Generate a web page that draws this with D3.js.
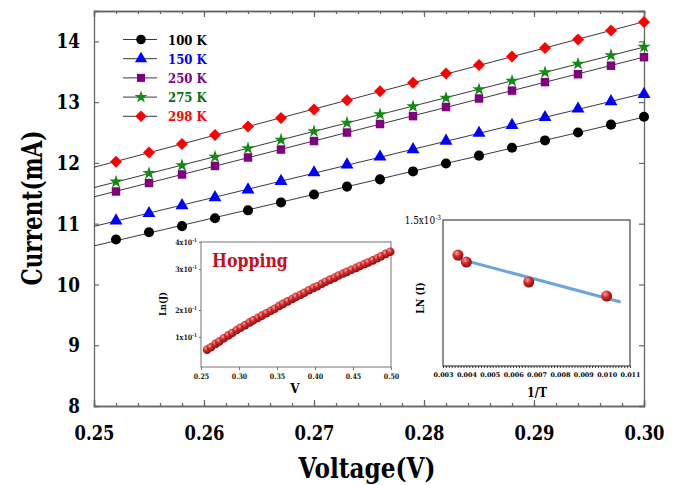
<!DOCTYPE html>
<html>
<head>
<meta charset="utf-8">
<script src="https://cdn.jsdelivr.net/npm/d3@7"></script>
<style>
  body { margin: 0; background: #fff; }
</style>
</head>
<body>
<div id="chart"></div>
<script>
// ---- main chart data ----
var voltage = [0.252, 0.255, 0.258, 0.261, 0.264, 0.267, 0.270, 0.273, 0.276, 0.279, 0.282, 0.285, 0.288, 0.291, 0.294, 0.297, 0.300];
var cur100 = [10.74, 10.86, 10.96, 11.09, 11.22, 11.35, 11.48, 11.61, 11.73, 11.86, 11.99, 12.12, 12.25, 12.37, 12.50, 12.63, 12.76];
var cur150 = [11.05, 11.17, 11.30, 11.43, 11.56, 11.70, 11.84, 11.97, 12.10, 12.22, 12.36, 12.49, 12.62, 12.75, 12.89, 13.01, 13.13];
var cur250 = [11.53, 11.67, 11.81, 11.95, 12.09, 12.22, 12.36, 12.50, 12.64, 12.77, 12.92, 13.06, 13.19, 13.33, 13.46, 13.60, 13.74];
var cur275 = [11.69, 11.83, 11.96, 12.10, 12.24, 12.38, 12.52, 12.66, 12.80, 12.93, 13.07, 13.21, 13.35, 13.49, 13.63, 13.77, 13.91];
var cur298 = [12.02, 12.17, 12.31, 12.46, 12.60, 12.74, 12.88, 13.03, 13.18, 13.32, 13.47, 13.61, 13.75, 13.89, 14.03, 14.18, 14.32];
var seriesNames = ["100 K", "150 K", "250 K", "275 K", "298 K"];
var xTicks = [0.25, 0.26, 0.27, 0.28, 0.29, 0.30];
var yTicks = [8, 9, 10, 11, 12, 13, 14];

// ---- inset 1 (Hopping) data ----
var hopV = [0.258, 0.263, 0.269, 0.274, 0.280, 0.286, 0.291, 0.297, 0.302, 0.308, 0.314, 0.319, 0.325, 0.330, 0.336,
            0.342, 0.347, 0.353, 0.358, 0.364, 0.370, 0.375, 0.381, 0.386, 0.392, 0.398, 0.403, 0.409, 0.414, 0.420,
            0.426, 0.431, 0.437, 0.442, 0.448, 0.454, 0.459, 0.465, 0.470, 0.476, 0.482, 0.487, 0.493, 0.499];
var hopLnJ = [0.058, 0.066, 0.077, 0.085, 0.096, 0.106, 0.115, 0.126, 0.134, 0.144, 0.154, 0.162, 0.171, 0.179, 0.188,
              0.197, 0.203, 0.210, 0.215, 0.221, 0.227, 0.232, 0.237, 0.242, 0.248, 0.254, 0.258, 0.264, 0.269, 0.274,
              0.279, 0.284, 0.289, 0.293, 0.298, 0.304, 0.311, 0.318, 0.324, 0.332, 0.340, 0.347, 0.356, 0.364];
var hopXTicks = [0.25, 0.30, 0.35, 0.40, 0.45, 0.50];
var hopYTicks = [0.1, 0.2, 0.3, 0.4];
var hopYLabels = ["1x10", "2x10", "3x10", "4x10"];

// ---- inset 2 (LN(I) vs 1/T) data ----
var invT = [0.00364, 0.00400, 0.00667, 0.01000];
var lnI = [0.001140, 0.001068, 0.000863, 0.000719];
var arrXTicks = [0.003, 0.004, 0.005, 0.006, 0.007, 0.008, 0.009, 0.010, 0.011];

var W = 681, H = 485;
var serif = "DejaVu Serif";
var svg = d3.select("#chart").append("svg")
    .attr("width", W).attr("height", H)
    .style("font-family", serif);
svg.append("rect").attr("width", W).attr("height", H).attr("fill", "#fff");

var defs = svg.append("defs");
var grad = defs.append("radialGradient").attr("id", "ball")
    .attr("cx", "38%").attr("cy", "32%").attr("r", "70%");
grad.append("stop").attr("offset", "0%").attr("stop-color", "#f6a0a0");
grad.append("stop").attr("offset", "45%").attr("stop-color", "#d42a2a");
grad.append("stop").attr("offset", "100%").attr("stop-color", "#8a0a0a");

// ---------------- main chart ----------------
var x = d3.scaleLinear().domain([0.25, 0.30]).range([94, 644]);
var y = d3.scaleLinear().domain([8, 14.5]).range([406, 11]);
var axisCol = "#666";

function styleAxis(g) {
    g.attr("font-family", null);
    g.select(".domain").attr("stroke", axisCol).attr("stroke-width", 1.3);
    g.selectAll(".tick line").attr("stroke", axisCol).attr("stroke-width", 1.2);
}

var minorX = d3.range(0, 26).map(function(i) { return 0.25 + i * 0.002; });

// bottom
svg.append("g").attr("transform", "translate(0,406)")
    .call(d3.axisBottom(x).tickValues(minorX).tickSize(-3).tickFormat(""))
    .call(styleAxis);
svg.append("g").attr("transform", "translate(0,406)")
    .call(d3.axisBottom(x).tickValues(xTicks).tickSize(-6).tickPadding(20).tickFormat(d3.format(".2f")))
    .call(styleAxis)
    .selectAll("text")
    .attr("fill", "#000").style("font-size", "20px").style("font-weight", "bold")
    .attr("transform", "scale(0.82,1)");
// top
svg.append("g").attr("transform", "translate(0,11)")
    .call(d3.axisTop(x).tickValues(minorX).tickSize(-3).tickFormat(""))
    .call(styleAxis);
svg.append("g").attr("transform", "translate(0,11)")
    .call(d3.axisTop(x).tickValues(xTicks).tickSize(-6).tickFormat(""))
    .call(styleAxis);
// left
svg.append("g").attr("transform", "translate(94,0)")
    .call(d3.axisLeft(y).tickValues(yTicks).tickSize(-5).tickPadding(13).tickFormat(d3.format("d")))
    .call(styleAxis)
    .selectAll("text")
    .attr("fill", "#000").style("font-size", "20.5px").style("font-weight", "bold")
    .attr("x", -14 / 0.82)
    .attr("transform", "scale(0.82,1)");
// right
svg.append("g").attr("transform", "translate(644,0)")
    .call(d3.axisRight(y).tickValues(yTicks).tickSize(-5).tickFormat(""))
    .call(styleAxis);

// axis titles
svg.append("text")
    .attr("transform", "translate(42,208) rotate(-90) scale(0.8,1)")
    .attr("text-anchor", "middle")
    .style("font-size", "27px").style("font-weight", "bold")
    .text("Current(mA)");
svg.append("text")
    .attr("transform", "translate(367,478) scale(0.86,1)")
    .attr("text-anchor", "middle")
    .style("font-size", "27px").style("font-weight", "bold")
    .text("Voltage(V)");

var seriesList = [
    { name: seriesNames[0], values: cur100, color: "#000000", text: "#000000", sym: d3.symbolCircle, size: 80, rot: 0 },
    { name: seriesNames[1], values: cur150, color: "#0000ff", text: "#0000ff", sym: d3.symbolTriangle, size: 72, rot: 0 },
    { name: seriesNames[2], values: cur250, color: "#800080", text: "#800080", sym: d3.symbolSquare, size: 72, rot: 0 },
    { name: seriesNames[3], values: cur275, color: "#138a13", text: "#0e6e0e", sym: d3.symbolStar, size: 55, rot: 0 },
    { name: seriesNames[4], values: cur298, color: "#ff0000", text: "#ff0000", sym: d3.symbolSquare, size: 72, rot: 45 }
];

// linear fit helper
function fit(xs, ys) {
    var mx = d3.mean(xs), my = d3.mean(ys);
    var sxy = 0, sxx = 0;
    xs.forEach(function(v, i) { sxy += (v - mx) * (ys[i] - my); sxx += (v - mx) * (v - mx); });
    var b = sxy / sxx;
    return function(v) { return my + b * (v - mx); };
}

var plot = svg.append("g");
seriesList.forEach(function(s) {
    var f = fit(voltage, s.values);
    plot.append("line")
        .attr("x1", x(0.25)).attr("y1", y(f(0.25)))
        .attr("x2", x(0.30)).attr("y2", y(f(0.30)))
        .attr("stroke", "#3a3a3a").attr("stroke-width", 1);
    plot.selectAll(null)
        .data(voltage)
        .enter()
        .append("path")
        .attr("d", d3.symbol().type(s.sym).size(s.size))
        .attr("transform", function(d, i) {
            return "translate(" + x(d) + "," + y(s.values[i]) + ") rotate(" + s.rot + ")";
        })
        .attr("fill", s.color);
});

// legend
var legend = svg.append("g");
seriesList.forEach(function(s, i) {
    var ly = 39.5 + i * 19.2;
    legend.append("line").attr("x1", 123).attr("x2", 157).attr("y1", ly).attr("y2", ly)
        .attr("stroke", "#3a3a3a").attr("stroke-width", 1);
    legend.append("path")
        .attr("d", d3.symbol().type(s.sym).size(s.size * 0.9))
        .attr("transform", "translate(141," + ly + ") rotate(" + s.rot + ")")
        .attr("fill", s.color);
    legend.append("text")
        .attr("transform", "translate(168," + (ly + 5) + ") scale(0.9,1)")
        .attr("fill", s.text)
        .style("font-size", "13px").style("font-weight", "bold")
        .text(s.name);
});

// ---------------- inset 1 : Hopping ----------------
var hx = d3.scaleLinear().domain([0.25, 0.50]).range([201, 391]);
var hy = d3.scaleLinear().domain([0, 0.1, 0.2, 0.3, 0.4]).range([367, 337, 310, 269, 242]);
var in1 = svg.append("g");
in1.append("rect").attr("x", 201).attr("y", 242).attr("width", 190).attr("height", 125)
    .attr("fill", "#fff").attr("stroke", "#8a8a8a").attr("stroke-width", 1.2);
in1.append("g").attr("transform", "translate(0,367)")
    .call(d3.axisBottom(hx).tickValues(hopXTicks).tickSize(3).tickPadding(4).tickFormat(d3.format(".2f")))
    .call(function(g) {
        g.attr("font-family", null);
        g.select(".domain").remove();
        g.selectAll(".tick line").attr("stroke", "#777");
        g.selectAll("text").attr("fill", "#222").style("font-size", "7.5px").style("font-weight", "bold")
            .attr("transform", "scale(0.85,1)");
    });
in1.append("g").attr("transform", "translate(201,0)")
    .call(d3.axisLeft(hy).tickValues(hopYTicks).tickSize(2).tickFormat(""))
    .call(function(g) {
        g.select(".domain").remove();
        g.selectAll(".tick line").attr("stroke", "#777");
    });
hopYTicks.forEach(function(t, i) {
    var tx = in1.append("text")
        .attr("transform", "translate(197," + (hy(t) + 3) + ") scale(0.85,1)")
        .attr("text-anchor", "end").attr("fill", "#222")
        .style("font-size", "7.5px").style("font-weight", "bold");
    tx.append("tspan").text(hopYLabels[i]);
    tx.append("tspan").attr("dy", -3).style("font-size", "5px").text("-1");
});
in1.append("text")
    .attr("transform", "translate(166,304) rotate(-90) scale(0.85,1)")
    .attr("text-anchor", "middle")
    .style("font-size", "10px").style("font-weight", "bold")
    .text("Ln(J)");
in1.append("text").attr("x", 295).attr("y", 393)
    .attr("text-anchor", "middle")
    .style("font-size", "12px").style("font-weight", "bold")
    .text("V");
in1.append("text")
    .attr("transform", "translate(212,267) scale(0.83,1)")
    .attr("fill", "#c3121c")
    .style("font-size", "19px").style("font-weight", "bold")
    .text("Hopping");
in1.selectAll(".ball")
    .data(hopV)
    .enter()
    .append("circle")
    .attr("class", "ball")
    .attr("cx", function(d) { return hx(d); })
    .attr("cy", function(d, i) { return hy(hopLnJ[i]); })
    .attr("r", 4.3)
    .attr("fill", "url(#ball)");

// ---------------- inset 2 : LN(I) vs 1/T ----------------
var ax = d3.scaleLinear().domain([0.003, 0.011]).range([443, 630]);
var ay = d3.scaleLinear().domain([0, 0.0015]).range([366, 220]);
var in2 = svg.append("g");
in2.append("rect").attr("x", 443).attr("y", 220).attr("width", 187).attr("height", 146)
    .attr("fill", "#fff").attr("stroke", "#444").attr("stroke-width", 1.2);
var minorT = d3.range(0, 65).map(function(i) { return 0.003 + i * 0.000125; });
in2.append("g").attr("transform", "translate(0,366)")
    .call(d3.axisBottom(ax).tickValues(minorT).tickSize(2).tickFormat(""))
    .call(function(g) {
        g.select(".domain").remove();
        g.selectAll(".tick line").attr("stroke", "#333");
    });
in2.append("g").attr("transform", "translate(0,366)")
    .call(d3.axisBottom(ax).tickValues(arrXTicks).tickSize(0).tickPadding(6).tickFormat(d3.format(".3f")))
    .call(function(g) {
        g.attr("font-family", null);
        g.select(".domain").remove();
        g.selectAll("text").attr("fill", "#000").style("font-size", "6.4px").style("font-weight", "bold");
    });
var topLab = in2.append("text")
    .attr("transform", "translate(441,224) scale(0.85,1)")
    .attr("text-anchor", "end").style("font-size", "10.5px");
topLab.append("tspan").text("1.5x10");
topLab.append("tspan").attr("dy", -4).style("font-size", "7px").text("-3");
in2.append("text")
    .attr("transform", "translate(424,298) rotate(-90) scale(0.85,1)")
    .attr("text-anchor", "middle")
    .style("font-size", "11px").style("font-weight", "bold")
    .text("LN (I)");
in2.append("text")
    .attr("transform", "translate(537,397) scale(0.85,1)")
    .attr("text-anchor", "middle")
    .style("font-size", "13px").style("font-weight", "bold")
    .text("1/T");
var fT = fit(invT, lnI);
in2.append("line")
    .attr("x1", ax(0.0035)).attr("y1", ay(fT(0.0035)))
    .attr("x2", ax(0.0106)).attr("y2", ay(fT(0.0106)))
    .attr("stroke", "#5b9bd5").attr("stroke-width", 3).attr("stroke-opacity", 0.9);
in2.selectAll(".ball2")
    .data(invT)
    .enter()
    .append("circle")
    .attr("class", "ball2")
    .attr("cx", function(d) { return ax(d); })
    .attr("cy", function(d, i) { return ay(lnI[i]); })
    .attr("r", 5.5)
    .attr("fill", "url(#ball)");
</script>
</body>
</html>
